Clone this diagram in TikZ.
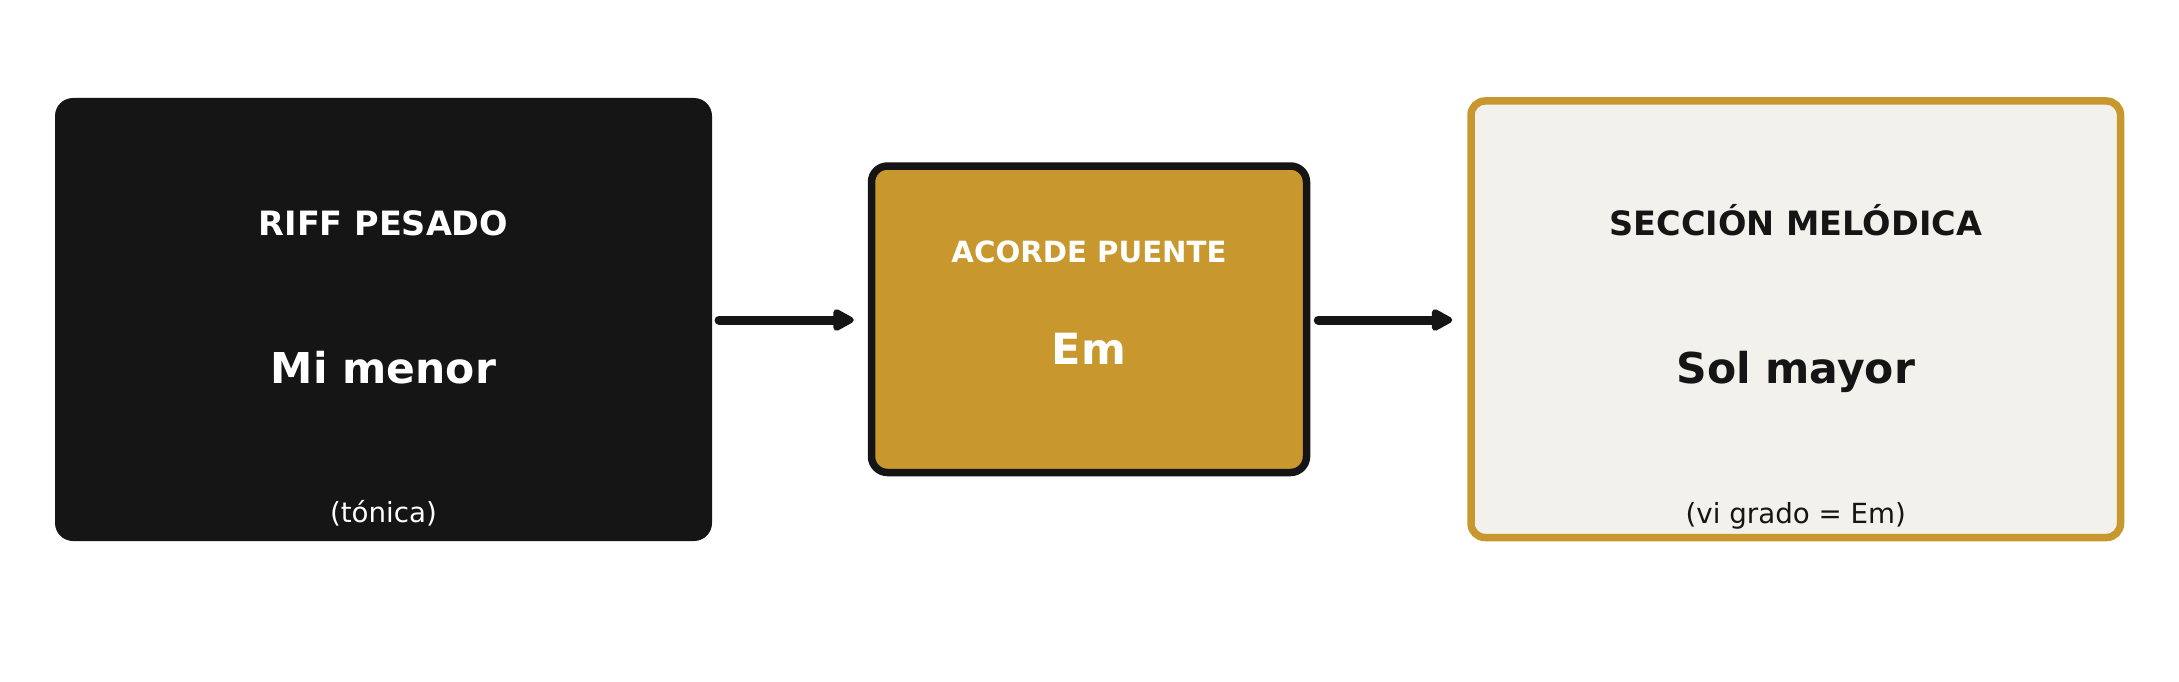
\documentclass[tikz,border=0pt]{standalone}
\usepackage{fontspec}
\setmainfont{DejaVu Sans}
\usetikzlibrary{arrows.meta}
\definecolor{ink}{HTML}{151515}
\definecolor{gold}{HTML}{C8982F}
\definecolor{cream}{HTML}{F3F1EB}
\tikzset{
  box/.style={rectangle, inner sep=0pt, outer sep=auto},
  lbl/.style={anchor=base, inner sep=0pt},
  conn/.style={draw=ink, line width=9pt, line cap=round, -{Triangle[length=24pt,width=24pt,round]}},
}
\begin{document}
\begin{tikzpicture}[x=1pt,y=-1pt]
\useasboundingbox[fill=white] (0,0) rectangle (2179,682);
\node[box, fill=ink, rounded corners=18pt, minimum width=657pt, minimum height=443pt] (b1) at (383.5,319.5) {};
\node[box, fill=gold, draw=ink, line width=7.5pt, rounded corners=16pt, minimum width=435pt, minimum height=306.5pt] (b2) at (1089,319.25) {};
\node[box, fill=cream, draw=gold, line width=7.5pt, rounded corners=14pt, minimum width=649.5pt, minimum height=436.5pt] (b3) at (1795.75,319.25) {};
\node[lbl, text=white, font=\bfseries\fontsize{33.5}{40}\selectfont] (t1) at (383.5,235) {RIFF PESADO};
\node[lbl, text=white, font=\bfseries\fontsize{42.5}{52}\selectfont] (m1) at (383.5,383.5) {Mi menor};
\node[lbl, text=white, font=\fontsize{27.7}{32}\selectfont] (s1) at (383.5,522) {(tónica)};
\node[lbl, text=white, font=\bfseries\fontsize{29.2}{36}\selectfont] (t2) at (1089,262) {ACORDE PUENTE};
\node[lbl, text=white, font=\bfseries\fontsize{43}{54}\selectfont] (m2) at (1089,364.5) {Em};
\node[lbl, text=ink, font=\bfseries\fontsize{33.5}{40}\selectfont] (t3) at (1795.75,235) {SECCIÓN MELÓDICA};
\node[lbl, text=ink, font=\bfseries\fontsize{42.5}{52}\selectfont] (m3) at (1795.75,383.5) {Sol mayor};
\node[lbl, text=ink, font=\fontsize{27.7}{32}\selectfont] (s3) at (1795.75,523) {(vi grado = Em)};
\draw[conn, shorten <=7pt, shorten >=14pt] (b1.east |- 0,320) -- (b2.west |- 0,320);
\draw[conn, shorten <=8pt, shorten >=15pt] (b2.east |- 0,320) -- (b3.west |- 0,320);
\end{tikzpicture}
\end{document}
